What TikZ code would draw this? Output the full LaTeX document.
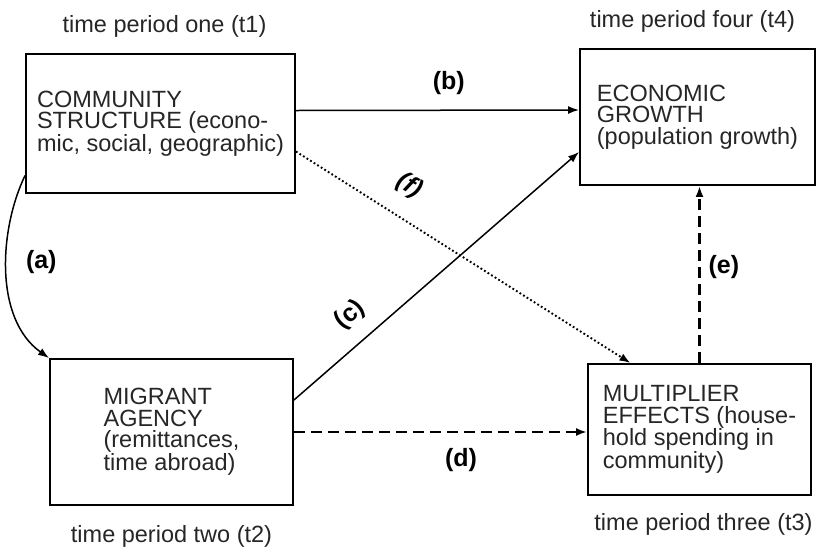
\documentclass[tikz,border=0pt]{standalone}
\usepackage{fontspec}
\setmainfont{Liberation Sans}
\usetikzlibrary{arrows.meta, positioning}

\begin{document}
\begin{tikzpicture}[x=1pt, y=-1pt,
			box/.style={draw, line width=1.9pt, rectangle, align=left, text=black!85, font=\fontsize{23.5}{21.5}\selectfont},
			period/.style={inner sep=0pt, text=black!85, font=\fontsize{23.5}{26}\selectfont},
			tag/.style={inner sep=0pt, font=\fontsize{25}{28}\selectfont\bfseries},
			arrow/.style={line width=1.5pt, -{Latex[length=11pt, width=8pt]}},
			dashedarrow/.style={arrow, line width=2.1pt, dash pattern=on 11pt off 6pt},
			dottedarrow/.style={arrow, line width=1.9pt, dash pattern=on 1.8pt off 2.4pt}
		]
		\useasboundingbox (0,0) rectangle (820,547);

		% Draw the boxes
		\node[box, minimum width=269pt, minimum height=139pt] (community) at (160.5,123.5) {COMMUNITY\\STRUCTURE (econo-\\mic, social, geographic)};
		\node[box, minimum width=235pt, minimum height=136pt] (growth) at (697.5,117) {ECONOMIC\\GROWTH\\(population growth)};
		\node[box, minimum width=243pt, minimum height=146pt] (migrant) at (171.5,432) {MIGRANT\\AGENCY\\(remittances,\\time abroad)};
		\node[box, minimum width=223pt, minimum height=131pt] (multiplier) at (699.5,429.5) {MULTIPLIER\\EFFECTS (house-\\hold spending in\\community)};

		% Time periods
		\node[period, above=15pt of community, xshift=4pt] (t1) {time period one (t1)};
		\node[period, above=15pt of growth, xshift=-5pt] (t4) {time period four (t4)};
		\node[period, below=19pt of migrant] (t2) {time period two (t2)};
		\node[period, below=17pt of multiplier, xshift=4pt] (t3) {time period three (t3)};

		% Draw the arrows
		\draw[arrow] ([yshift=-52pt]community.west) .. controls +(-26,54) and +(-55,-39) .. (migrant.north west) node[tag, pos=0.45, right=19pt] {(a)};
		\draw[arrow] ([yshift=13pt]community.east) -- node[tag, pos=0.54, above=15pt] {(b)} ([yshift=7pt]growth.west);
		\draw[arrow] ([yshift=32pt]migrant.east) -- node[tag, pos=0.26, sloped, above=15pt] {(c)} ([yshift=-35pt]growth.west);
		\draw[dashedarrow] (migrant.east) -- node[tag, pos=0.57, below=15pt] {(d)} (migrant.east -| multiplier.west);
		\draw[dashedarrow] (multiplier.north) -- node[tag, pos=0.54, right=8pt] {(e)} (multiplier.north |- growth.south);
		\draw[dottedarrow] ([yshift=-28pt]community.east) -- node[tag, pos=0.29, sloped, above=19pt] {\itshape (f)} ([xshift=-69pt]multiplier.north);

		\end{tikzpicture}
\end{document}
